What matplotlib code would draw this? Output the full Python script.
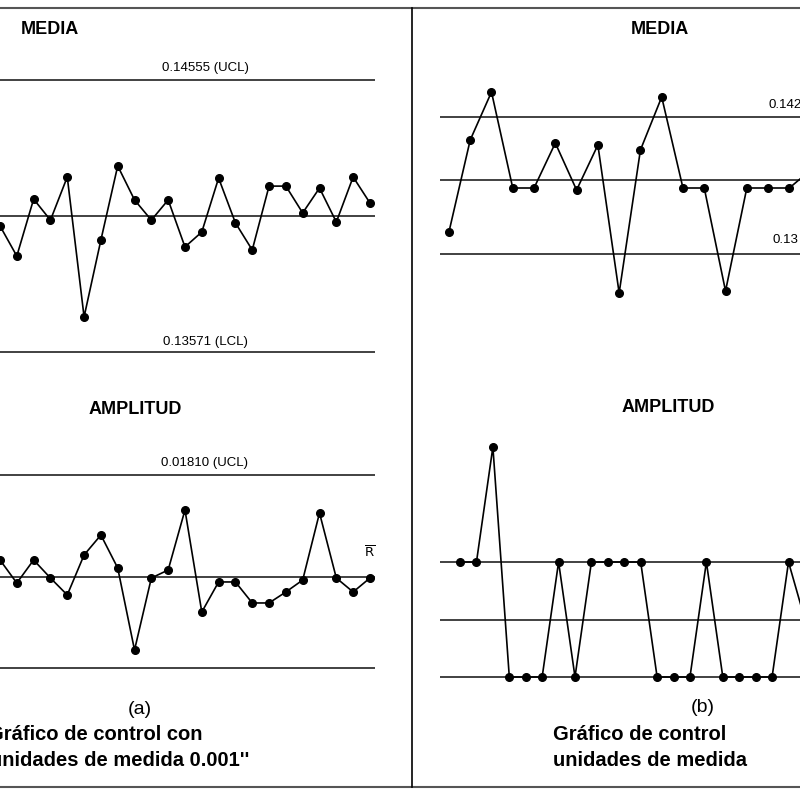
import matplotlib
matplotlib.use("Agg")
import matplotlib.pyplot as plt
from matplotlib.lines import Line2D

# (a) media, measured values (inches)
media_a = [0.14027, 0.13918, 0.14124, 0.14048, 0.14204, 0.13698, 0.13976, 0.14244,
           0.14121, 0.14048, 0.14121, 0.13951, 0.14005, 0.14200, 0.14038, 0.13940,
           0.14171, 0.14171, 0.14074, 0.14164, 0.14041, 0.14204, 0.14110]
media_a_lim = [0.14555, 0.14063, 0.13571]   # UCL, centre, LCL

# (a) amplitud
amp_a = [0.01013, 0.00797, 0.01013, 0.00844, 0.00685, 0.01060, 0.01247, 0.00938,
         0.00169, 0.00844, 0.00919, 0.01482, 0.00525, 0.00807, 0.00807, 0.00610,
         0.00610, 0.00713, 0.00825, 0.01454, 0.00844, 0.00713, 0.00844]
amp_a_lim = [0.01810, 0.00853, 0.0]

# (b) media, coarse units (relative to centre)
media_b = [-52, 40, 88, -8, -8, 37, -10, 35, -113, 30, 83, -8, -8, -111, -8, -8, -8, 10]
media_b_lim = [63, 0, -74]

# (b) amplitud, coarse units
amp_b = [2, 2, 4, 0, 0, 0, 2, 0, 2, 2, 2, 2, 0, 0, 0, 2, 0, 0, 0, 0, 2, 1]
amp_b_lim = [2, 1, 0]

W = H = 800.0
fig = plt.figure(figsize=(8, 8), dpi=100)


def px_axes(x0, x1, y0, y1):
    return fig.add_axes([x0 / W, 1 - y1 / H, (x1 - x0) / W, (y1 - y0) / H])


def control(ax, vals, lims, xlim, ylim):
    for v in lims:
        ax.axhline(v, color="#333333", lw=1.3)
    ax.plot(range(len(vals)), vals, color="black", lw=1.2, marker="o", ms=5.5)
    ax.set_xlim(*xlim)
    ax.set_ylim(*ylim)
    ax.axis("off")


ax1 = px_axes(0, 375, 60, 370)
control(ax1, media_a, media_a_lim, (0, 22.3), (0.13506, 0.14627))
ax2 = px_axes(0, 375, 440, 690)
control(ax2, amp_a, amp_a_lim, (0, 22.3), (-0.00206, 0.02138))
ax3 = px_axes(440, 800, 60, 370)
control(ax3, media_b, media_b_lim, (-0.42, 16.5), (-190, 120))
ax4 = px_axes(440, 800, 430, 690)
control(ax4, amp_b, amp_b_lim, (-1.22, 20.7), (-0.226, 4.296))

bold = dict(family="Liberation Sans", weight="bold", fontsize=13, ha="center", va="center")
small = dict(family="Liberation Sans", fontsize=9.5, ha="center", va="center")
cap = dict(family="Liberation Sans", fontsize=14, ha="center", va="center")
capl = dict(family="Liberation Sans", fontsize=14.5, weight="semibold", ha="left", va="center")

fig.text(50 / W, 1 - 30 / H, "MEDIA", **bold)
fig.text(660 / W, 1 - 30 / H, "MEDIA", **bold)
fig.text(135 / W, 1 - 410 / H, "AMPLITUD", **bold)
fig.text(668 / W, 1 - 408 / H, "AMPLITUD", **bold)
fig.text(205 / W, 1 - 68 / H, "0.14555 (UCL)", **small)
fig.text(205 / W, 1 - 342 / H, "0.13571 (LCL)", **small)
fig.text(205 / W, 1 - 463 / H, "0.01810 (UCL)", **small)
fig.text(370 / W, 1 - 553 / H, r"$\overline{\mathrm{R}}$", **small)
fig.text(785 / W, 1 - 105 / H, "0.142", **small)
fig.text(785 / W, 1 - 240 / H, "0.13", **small)
fig.text(140 / W, 1 - 710 / H, "(a)", **cap)
fig.text(703 / W, 1 - 707 / H, "(b)", **cap)
fig.text(-12 / W, 1 - 735 / H, "Gráfico de control con", **capl)
fig.text(-10 / W, 1 - 760 / H, "unidades de medida 0.001''", **capl)
fig.text(553 / W, 1 - 735 / H, "Gráfico de control", **capl)
fig.text(553 / W, 1 - 760 / H, "unidades de medida", **capl)

# frame lines
fig.add_artist(Line2D([0, 1], [1 - 8 / H] * 2, color="#555555", lw=1.5))
fig.add_artist(Line2D([0, 1], [1 - 787 / H] * 2, color="#555555", lw=1.5))
fig.add_artist(Line2D([412 / W] * 2, [1 - 8 / H, 1 - 787 / H], color="black", lw=1.2))

fig.savefig("out.png", dpi=100)
